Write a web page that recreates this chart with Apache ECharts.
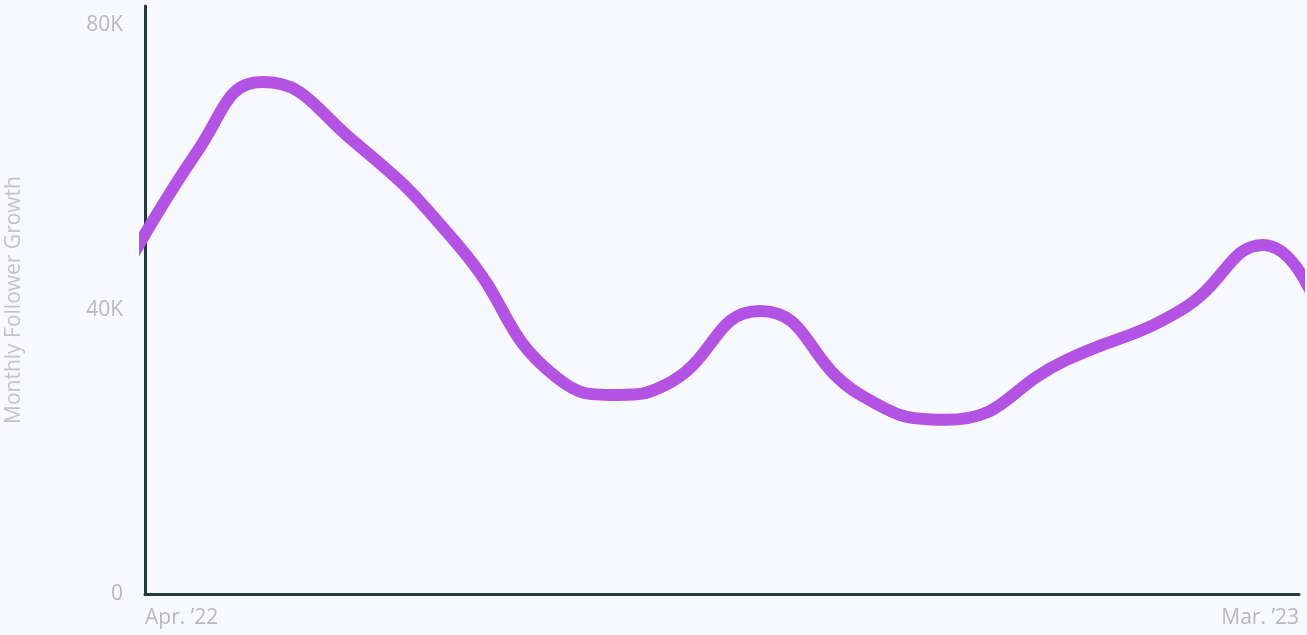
<!DOCTYPE html>
<html>
<head>
<meta charset="utf-8">
<script src="https://cdn.jsdelivr.net/npm/echarts@6/dist/echarts.min.js"></script>
<style>
html,body{margin:0;padding:0;background:#f8f9fe;}
#c{width:1307px;height:635px;}
</style>
</head>
<body>
<div id="c"></div>
<script>
// month index (0 = Apr '22 ... 11 = Mar '23), readings at the curve's turning points
var monthIndex = [-0.5, 0.5, 1.12, 2.01, 3.0, 3.92, 4.5, 4.96, 5.86, 6.82, 7.63, 8.78, 9.87, 10.66, 11.35];
var followerGrowth = [37100, 62300, 72000, 63400, 48800, 30500, 28000, 29400, 39800, 28000, 24500, 32900, 39900, 49100, 32900];
var xTickLabels = {0: 'Apr. \u201922', 11: 'Mar. \u201923'};
var yTicks = [0, 40000, 80000];

var chart = echarts.init(document.getElementById('c'));
var labelColor = '#b9b9b9';
var font = '"Open Sans", "Noto Sans", sans-serif';
chart.setOption({
  backgroundColor: '#f8f9fe',
  animation: false,
  grid: {left: 145, right: 8, top: 6, bottom: 41, outerBoundsMode: 'none', containLabel: false},
  xAxis: {
    type: 'value',
    min: 0, max: 11, interval: 11,
    axisLine: {show: true, lineStyle: {color: '#243842', width: 3}},
    axisTick: {show: false},
    splitLine: {show: false},
    axisLabel: {
      color: labelColor, fontSize: 21, fontFamily: font, margin: 14,
      alignMinLabel: 'left', alignMaxLabel: 'right',
      formatter: function (v) { return xTickLabels[v] || ''; }
    }
  },
  yAxis: {
    type: 'value',
    min: 0, max: 82700, interval: 40000,
    name: 'Monthly Follower Growth',
    nameLocation: 'middle',
    nameGap: 120,
    nameTextStyle: {color: '#c4c4c4', fontSize: 21, fontFamily: font},
    axisLine: {show: true, lineStyle: {color: '#243842', width: 3}},
    axisTick: {show: false},
    splitLine: {show: false},
    axisLabel: {
      color: labelColor, fontSize: 21, fontFamily: font, margin: 22,
      showMaxLabel: false,
      formatter: function (v) {
        if (yTicks.indexOf(v) < 0) return '';
        return v === 0 ? '0' : (v / 1000) + 'K';
      }
    }
  },
  series: [{
    type: 'line',
    data: monthIndex.map(function (m, i) { return [m, followerGrowth[i]]; }),
    smooth: 0.5,
    clip: true,
    showSymbol: false,
    symbol: 'none',
    lineStyle: {color: '#b353e3', width: 12, cap: 'round', join: 'round'}
  }]
});
</script>
</body>
</html>
